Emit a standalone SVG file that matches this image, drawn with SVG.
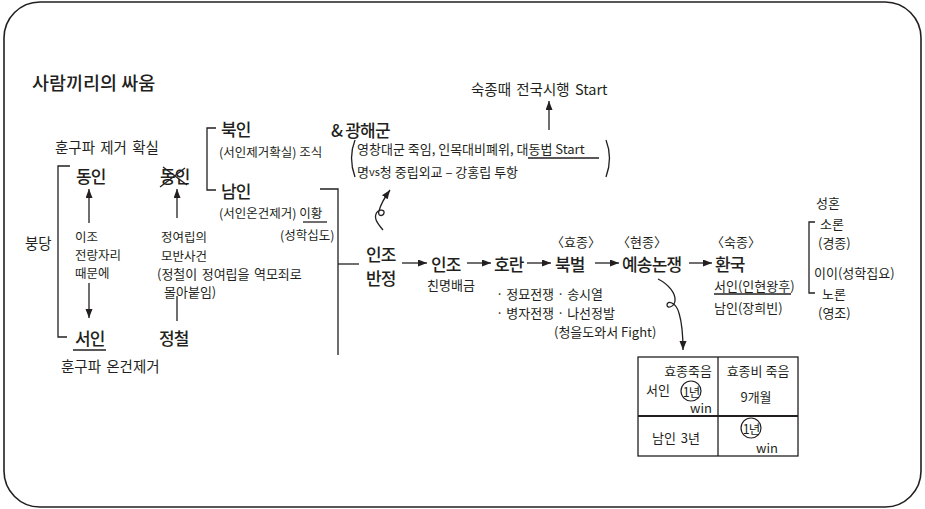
<svg xmlns="http://www.w3.org/2000/svg" width="925" height="509" viewBox="0 0 925 509">
<style>
text{font-family:"Noto Sans CJK KR","Noto Sans",sans-serif;fill:#231f20;dominant-baseline:central}
.t{font-size:18.5px;font-weight:500}
.m{font-size:17px;letter-spacing:-0.8px;font-weight:500}
.h{font-size:14.5px}
.s{font-size:13px}
.xs{font-size:12.5px}
.ln{stroke:#231f20;stroke-width:1.3;fill:none}
.ar{stroke:#231f20;stroke-width:1.3;fill:none;marker-end:url(#ah)}
</style>
<defs>
<marker id="ah" markerUnits="userSpaceOnUse" markerWidth="10" markerHeight="8" refX="9" refY="3.5" orient="auto">
<path d="M0,0 L9,3.5 L0,7 z" fill="#231f20"/>
</marker>
</defs>
<rect x="4" y="2" width="917" height="505" rx="36" ry="36" fill="#fff" stroke="#231f20" stroke-width="1.6"/>
<text class="t" x="32" y="82">사람끼리의 싸움</text>

<g id="connectors">
<path class="ln" d="M70,166 H58 V337 H67"/>
<path class="ar" d="M89,223 V189"/>
<path class="ar" d="M89,283 V318"/>
<path class="ar" d="M177,218 V189"/>
<path class="ln" d="M177,296 V321"/>
<path class="ln" d="M216,128 H207 V190 H216"/>
<path class="ln" d="M320,189 H338 V355"/>
<path class="ln" d="M338,264 H359"/>
<path class="ar" d="M549,130 V101"/>
<path class="ar" d="M383,230 C378,224 374,219 376,214 C378,209 385,209 384,213 C383,217 377,216 379,211 C381,203 385,197 390,190"/>
<path class="ar" d="M402,263 H427"/>
<path class="ar" d="M467,263 H491"/>
<path class="ar" d="M527,263 H551"/>
<path class="ar" d="M595,263 H619"/>
<path class="ar" d="M689,263 H712"/>
<path class="ar" d="M658,279 C668,284 676,293 675,301 C674,307 667,309 667,305 C667,300 676,302 679,313 C682,323 683,333 683,350"/>
<path class="ln" d="M815,222 H809 V293 H815"/>
<path class="ln" d="M355,140 Q348,158 355,177"/>
<path class="ln" d="M606,140 Q613,158 606,177"/>
</g>

<g id="n-donghak">
<text class="h" x="55" y="146" word-spacing="2">훈구파 제거 확실</text>
<text class="m" x="76" y="175">동인</text>
</g>
<g id="n-bungdang"><text class="h" x="25" y="242">붕당</text></g>
<g id="n-ijo">
<text class="xs" x="75" y="236">이조</text>
<text class="xs" x="75" y="254">전랑자리</text>
<text class="xs" x="75" y="272">때문에</text>
</g>
<g id="n-seoin">
<text class="m" x="75" y="337">서인</text>
<line class="ln" x1="73" y1="350" x2="106" y2="350"/>
<text class="h" x="61" y="365" word-spacing="2">훈구파 온건제거</text>
</g>
<g id="n-dongin-x">
<text class="m" x="160" y="175">동인</text>
<line class="ln" x1="160" y1="187" x2="185" y2="168"/>
<line class="ln" x1="163" y1="167" x2="187" y2="185"/>
</g>
<g id="n-jeongyeorip">
<text class="xs" x="161" y="236">정여립의</text>
<text class="xs" x="161" y="255">모반사건</text>
<text class="s" x="157" y="273" word-spacing="1.5">(정철이 정여립을 역모죄로</text>
<text class="s" x="164" y="291">몰아붙임)</text>
</g>
<g id="n-jeongcheol"><text class="m" x="159" y="337">정철</text></g>
<g id="n-bukin">
<text class="m" x="221" y="128">북인</text>
<text class="xs" x="219" y="151">(서인제거확실) 조식</text>
</g>
<g id="n-namin">
<text class="m" x="221" y="190">남인</text>
<text class="xs" x="219" y="212">(서인온건제거) 이황</text>
<line class="ln" x1="303" y1="222" x2="327" y2="222"/>
<text class="xs" x="280" y="234">(성학십도)</text>
</g>
<g id="n-gwanghae">
<text class="m" x="331" y="129">&amp; 광해군</text>
<text class="s" x="357" y="148" font-size="13.8">영창대군 죽임, 인목대비폐위, 대동법 Start</text>
<line class="ln" x1="528" y1="158" x2="599" y2="158"/>
<text class="s" x="357" y="171" font-size="13.8">명<tspan font-size="11">vs</tspan>청 중립외교 – 강홍립 투항</text>
</g>
<g id="n-daedong"><text class="h" x="471" y="88" font-size="15.5" word-spacing="2">숙종때 전국시행 Start</text></g>
<g id="n-injobanjeong">
<text class="m" x="366" y="253" font-size="16.5">인조</text>
<text class="m" x="366" y="277" font-size="16.5">반정</text>
</g>
<g id="n-injo">
<text class="m" x="431" y="263">인조</text>
<text class="s" x="427" y="284">친명배금</text>
</g>
<g id="n-horan">
<text class="m" x="494" y="263">호란</text>
<text class="s" x="496" y="293">· 정묘전쟁 · 송시열</text>
<text class="s" x="496" y="312">· 병자전쟁 · 나선정발</text>
<text class="s" x="554" y="331">(청을도와서 Fight)</text>
</g>
<g id="n-bukbeol">
<text class="s" x="551" y="241">〈효종〉</text>
<text class="m" x="555" y="263">북벌</text>
</g>
<g id="n-yesong">
<text class="s" x="617" y="241">〈현종〉</text>
<text class="m" x="622" y="263">예송논쟁</text>
</g>
<g id="n-hwanguk">
<text class="s" x="711" y="241">〈숙종〉</text>
<text class="m" x="715" y="263">환국</text>
<text class="s" x="714" y="285">서인(인현왕후)</text>
<line class="ln" x1="714" y1="294" x2="791" y2="294"/>
<text class="s" x="714" y="307">남인(장희빈)</text>
</g>
<g id="n-noron-soron">
<text class="s" x="816" y="202">성혼</text>
<text class="s" x="820" y="223">소론</text>
<text class="s" x="818" y="242">(경종)</text>
<text class="s" x="814" y="272" font-size="13.5">이이(성학집요)</text>
<text class="s" x="822" y="293">노론</text>
<text class="s" x="818" y="312">(영조)</text>
</g>
<g id="n-table">
<rect x="638" y="357" width="160" height="99" fill="none" stroke="#231f20" stroke-width="1.3"/>
<line class="ln" x1="718" y1="357" x2="718" y2="456"/>
<line x1="638" y1="416" x2="798" y2="416" stroke="#231f20" stroke-width="2.2"/>
<text class="s" x="712" y="370" text-anchor="end">효종죽음</text>
<text class="s" x="646" y="389">서인</text>
<circle cx="691" cy="391" r="10" fill="none" stroke="#231f20" stroke-width="1.2"/>
<text class="xs" x="691" y="391" text-anchor="middle" letter-spacing="-1">1년</text>
<text class="s" x="712" y="407" text-anchor="end">win</text>
<text class="s" x="758" y="370" text-anchor="middle">효종비 죽음</text>
<text class="s" x="756" y="396" text-anchor="middle">9개월</text>
<text class="s" x="676" y="437" text-anchor="middle" word-spacing="2">남인 3년</text>
<circle cx="751" cy="428" r="10" fill="none" stroke="#231f20" stroke-width="1.2"/>
<text class="xs" x="751" y="428" text-anchor="middle" letter-spacing="-1">1년</text>
<text class="s" x="756" y="447">win</text>
</g>
</svg>
